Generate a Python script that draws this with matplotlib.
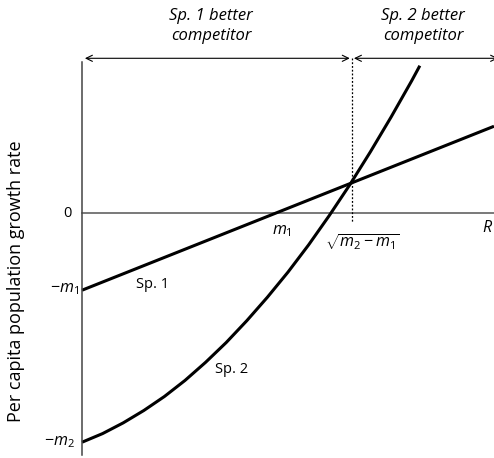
import matplotlib
matplotlib.use("Agg")
import matplotlib.pyplot as plt

# values (arbitrary units)
m1 = 1.87
m2 = 5.56
r_cross = 6.55
r_max = 10.0

sp1_R = [0.0, 10.0]
sp1_g = [-1.87, 2.11]

sp2_R = [0.0, 0.5, 1.0, 1.5, 2.0, 2.5, 3.0, 3.5, 4.0, 4.5, 5.0, 5.5, 6.0, 6.5, 7.0, 7.5, 8.0, 8.2]
sp2_g = [-5.56, -5.35, -5.09, -4.79, -4.45, -4.06, -3.62, -3.14, -2.61, -2.04, -1.43, -0.77,
         -0.06, 0.69, 1.49, 2.33, 3.21, 3.58]

plt.rcParams["font.family"] = ["Open Sans", "DejaVu Sans"]
plt.rcParams["mathtext.fontset"] = "custom"
plt.rcParams["mathtext.it"] = "Open Sans:italic"
plt.rcParams["mathtext.rm"] = "Open Sans"

fig = plt.figure(figsize=(4.94, 4.58), dpi=100)
ax = fig.add_axes([82 / 494, 1 - 455 / 458, 412 / 494, 393 / 458])
ax.set_xlim(0, r_max)
ax.set_ylim(-5.87, 3.67)
for s in ("top", "right", "bottom"):
    ax.spines[s].set_visible(False)
ax.spines["left"].set_color("#444444")
ax.spines["left"].set_linewidth(1.1)
ax.set_xticks([])
ax.set_yticks([])
ax.axhline(0, color="#555555", lw=1.1, clip_on=False)

ax.plot(sp1_R, sp1_g, color="black", lw=2.2, solid_capstyle="butt", clip_on=False)
ax.plot(sp2_R, sp2_g, color="black", lw=2.2, solid_capstyle="butt", clip_on=False)

# dotted marker at the crossing
ax.plot([r_cross, r_cross], [3.76, -0.24], color="black", lw=0.9, ls=(0, (1.5, 1.5)), clip_on=False)

arrow = dict(arrowstyle="<->,head_length=0.45,head_width=0.22", color="black", lw=0.8,
             shrinkA=0, shrinkB=0)
ax.annotate("", xy=(0.07, 3.76), xytext=(r_cross - 0.05, 3.76), arrowprops=arrow,
            annotation_clip=False)
ax.annotate("", xy=(r_cross + 0.05, 3.76), xytext=(r_max + 0.1, 3.76), arrowprops=arrow,
            annotation_clip=False)

top_fs = 12
ax.text(3.13, 4.54, "Sp. 1 better\ncompetitor", style="italic", ha="center", va="center",
        fontsize=top_fs, linespacing=1.3)
ax.text(8.28, 4.54, "Sp. 2 better\ncompetitor", style="italic", ha="center", va="center",
        fontsize=top_fs, linespacing=1.3)

fs = 10.5
mfs = 11.5
ax.text(-0.24, 0.0, "0", ha="right", va="center", fontsize=fs)
ax.text(-0.08, -1.84, r"$-m_1$", ha="right", va="center", fontsize=mfs)
ax.text(-0.17, -5.56, r"$-m_2$", ha="right", va="center", fontsize=mfs)
ax.text(4.85, -0.44, r"$m_1$", ha="center", va="center", fontsize=mfs)
ax.text(6.82, -0.70, r"$\sqrt{m_2 - m_1}$", ha="center", va="center", fontsize=mfs)
ax.text(9.84, -0.36, r"$R$", ha="center", va="center", fontsize=mfs)
ax.text(1.72, -1.72, "Sp. 1", ha="center", va="center", fontsize=fs)
ax.text(3.64, -3.79, "Sp. 2", ha="center", va="center", fontsize=fs)

ax.text(-1.60, -1.65, "Per capita population growth rate", rotation=90, ha="center",
        va="center", fontsize=13)

fig.savefig("out.png", dpi=100)
